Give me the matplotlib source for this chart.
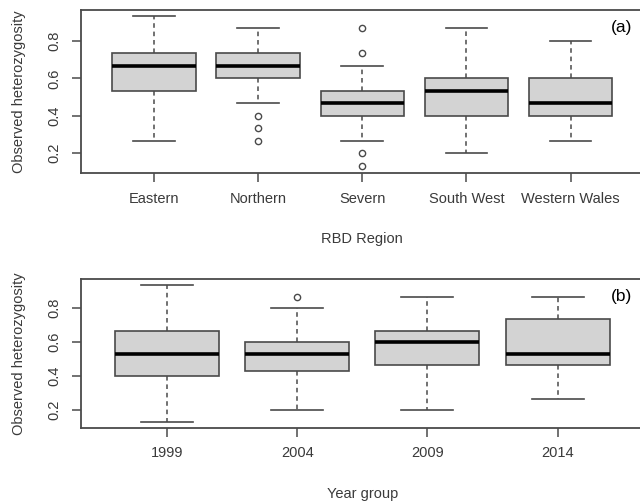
import matplotlib
matplotlib.use("Agg")
import matplotlib.pyplot as plt

plt.rcParams['font.family'] = ['Liberation Sans', 'DejaVu Sans']

# (a) RBD region summaries: lower whisker, Q1, median, Q3, upper whisker, outliers
regiones = ["Eastern", "Northern", "Severn", "South West", "Western Wales"]
reg_whislo = [0.267, 0.467, 0.267, 0.200, 0.267]
reg_q1 = [0.533, 0.600, 0.400, 0.400, 0.400]
reg_med = [0.667, 0.667, 0.467, 0.533, 0.467]
reg_q3 = [0.733, 0.733, 0.533, 0.600, 0.600]
reg_whishi = [0.933, 0.867, 0.667, 0.867, 0.800]
reg_fliers = [[], [0.400, 0.333, 0.267], [0.867, 0.733, 0.200, 0.133], [], []]

# (b) year group summaries
anios = ["1999", "2004", "2009", "2014"]
an_whislo = [0.133, 0.200, 0.200, 0.267]
an_q1 = [0.400, 0.433, 0.467, 0.467]
an_med = [0.533, 0.533, 0.600, 0.533]
an_q3 = [0.667, 0.600, 0.667, 0.733]
an_whishi = [0.933, 0.800, 0.867, 0.867]
an_fliers = [[], [0.867], [], []]

GRIS_TEXTO = "#3a3a3a"
GRIS_LINEA = "#4a4a4a"


def armar_stats(etiquetas, lo, q1, med, q3, hi, fl):
    stats = []
    for i in range(len(etiquetas)):
        stats.append({"label": etiquetas[i], "whislo": lo[i], "q1": q1[i], "med": med[i],
                      "q3": q3[i], "whishi": hi[i], "fliers": fl[i]})
    return stats


def dibujar(ax, stats, xlabel, letra, pos_letra):
    n = len(stats)
    ax.bxp(stats, positions=range(1, n + 1), widths=0.8, patch_artist=True,
           boxprops=dict(facecolor="#d3d3d3", edgecolor=GRIS_LINEA, linewidth=1.2),
           medianprops=dict(color="black", linewidth=2.6, solid_capstyle="butt"),
           whiskerprops=dict(color=GRIS_LINEA, linewidth=1.1, linestyle=(0, (3, 2.5))),
           capprops=dict(color=GRIS_LINEA, linewidth=1.2),
           flierprops=dict(marker="o", markersize=4.5, markerfacecolor="none",
                           markeredgecolor=GRIS_LINEA, markeredgewidth=1.0),
           capwidths=0.4)
    rango = n
    ax.set_xlim(0.5 - 0.04 * rango, n + 0.5 + 0.04 * rango)
    ax.set_yticks([0.2, 0.4, 0.6, 0.8])
    ax.set_yticklabels(["0.2", "0.4", "0.6", "0.8"], rotation=90, va="center")
    ax.set_xticks(range(1, n + 1))
    ax.set_xticklabels([s["label"] for s in stats])
    ax.tick_params(axis="both", direction="out", length=6.5, width=1.1, color=GRIS_LINEA,
                   labelcolor=GRIS_TEXTO, labelsize=10.5)
    ax.tick_params(axis="x", pad=7)
    ax.tick_params(axis="y", pad=8)
    for lado in ax.spines.values():
        lado.set_color(GRIS_LINEA)
        lado.set_linewidth(1.3)
    ax.set_ylabel("Observed heterozygosity", color=GRIS_TEXTO, fontsize=10.5, labelpad=15)
    ax.set_xlabel(xlabel, color=GRIS_TEXTO, fontsize=10.5, labelpad=19)
    ax.text(pos_letra[0], pos_letra[1], letra, transform=ax.transAxes, fontsize=12.5,
            ha="center", va="center", color="black")


fig = plt.figure(figsize=(6.4, 5.04), dpi=100)
ax1 = fig.add_axes([0.1266, 0.6567, 0.8789, 0.3234])
ax2 = fig.add_axes([0.1266, 0.1514, 0.8789, 0.2944])

dibujar(ax1, armar_stats(regiones, reg_whislo, reg_q1, reg_med, reg_q3, reg_whishi, reg_fliers),
        "RBD Region", "(a)", (0.961, 0.891))
ax1.set_ylim(0.094, 0.965)
dibujar(ax2, armar_stats(anios, an_whislo, an_q1, an_med, an_q3, an_whishi, an_fliers),
        "Year group", "(b)", (0.961, 0.883))
ax2.set_ylim(0.098, 0.968)

fig.savefig("out.png", dpi=100)
